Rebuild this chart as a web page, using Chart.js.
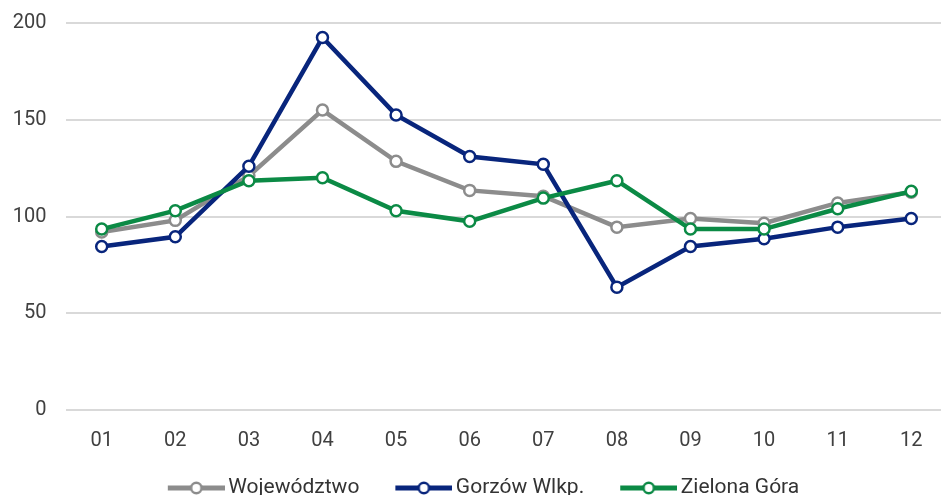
<!DOCTYPE html>
<html lang="pl">
<head>
  <meta charset="UTF-8" />
  <title>Wykres</title>
  <script src="https://cdn.jsdelivr.net/npm/chart.js"></script>
  <style>
    html, body { margin: 0; padding: 0; background: #fff; }
    #wrap { width: 941px; height: 495px; position: relative; }
  </style>
</head>
<body>
  <div id="wrap"><canvas id="chart"></canvas></div>
  <script>
    // Data
    const months = ['01','02','03','04','05','06','07','08','09','10','11','12'];
    const wojewodztwo = [92, 98, 121, 155, 128.5, 113.5, 110.5, 94.5, 99, 96.5, 107, 112.5];
    const gorzow      = [84.5, 89.5, 126, 192.5, 152.5, 131, 127, 63.5, 84.5, 88.5, 94.5, 99];
    const zielona     = [93.5, 103, 118.5, 120, 103, 97.5, 109.5, 118.5, 93.5, 93.5, 104, 113];
    const yTicks = [0, 50, 100, 150, 200];

    const colors = { woj: '#8c8c8c', gorz: '#08257c', ziel: '#0b8a45' };
    const tickFont = { family: 'Roboto', size: 20 };
    const legendFont = { family: 'Roboto', size: 21 };

    // legend icon: line with open circle, drawn in the right part of a wider canvas
    function legendIcon(color){
      const c = document.createElement('canvas');
      c.width = 90; c.height = 16;
      const g = c.getContext('2d');
      g.strokeStyle = color; g.lineWidth = 5;
      g.beginPath(); g.moveTo(33, 8); g.lineTo(90, 8); g.stroke();
      g.fillStyle = '#fff'; g.lineWidth = 2.5;
      g.beginPath(); g.arc(61.5, 8, 5.2, 0, Math.PI*2); g.fill(); g.stroke();
      return c;
    }
    const icons = [legendIcon(colors.woj), legendIcon(colors.gorz), legendIcon(colors.ziel)];

    const toPts = arr => arr.map((v, i) => ({ x: i + 1, y: v }));
    const ds = (label, arr, color, order) => ({
      label, data: toPts(arr), order,
      borderColor: color, backgroundColor: color, borderWidth: 4.5,
      pointRadius: 5.5, pointBorderWidth: 2.5, pointBackgroundColor: '#fff', pointBorderColor: color,
      tension: 0, clip: false
    });

    new Chart(document.getElementById('chart'), {
      type: 'line',
      data: {
        datasets: [
          ds('Województwo', wojewodztwo, colors.woj, 3),
          ds('Gorzów Wlkp.', gorzow, colors.gorz, 2),
          ds('Zielona Góra', zielona, colors.ziel, 1)
        ]
      },
      options: {
        responsive: true,
        maintainAspectRatio: false,
        animation: false,
        layout: { autoPadding: false, padding: { left: 0, right: 0, top: 23, bottom: -13.5 } },
        plugins: {
          tooltip: { enabled: false },
          legend: {
            position: 'bottom',
            labels: {
              usePointStyle: true,
              pointStyleWidth: 76,
              padding: 10,
              color: '#333',
              font: legendFont,
              sort: (a, b) => a.datasetIndex - b.datasetIndex,
              generateLabels(chart){
                const items = Chart.defaults.plugins.legend.labels.generateLabels(chart);
                items.forEach(it => { it.pointStyle = icons[it.datasetIndex]; });
                return items;
              }
            }
          }
        },
        scales: {
          x: {
            type: 'linear',
            min: 0.515,
            max: 12.404,
            grid: { display: false },
            border: { display: false },
            afterBuildTicks(scale){ scale.ticks = months.map((m, i) => ({ value: i + 1 })); },
            afterFit(scale){ scale.height = 57.5; scale.paddingLeft = 0; scale.paddingRight = 0; },
            ticks: {
              color: '#404040', font: tickFont, padding: 11, autoSkip: false, maxRotation: 0,
              callback: v => months[v - 1]
            }
          },
          y: {
            min: 0, max: 200,
            afterBuildTicks(scale){ scale.ticks = yTicks.map(v => ({ value: v })); },
            afterFit(scale){ scale.width = 66; scale.paddingTop = 0; scale.paddingBottom = 0; },
            grid: { color: '#d9d9d9', lineWidth: 2, drawTicks: false },
            border: { display: false },
            ticks: { color: '#404040', font: tickFont, padding: 19.5 }
          }
        }
      }
    });
  </script>
</body>
</html>
